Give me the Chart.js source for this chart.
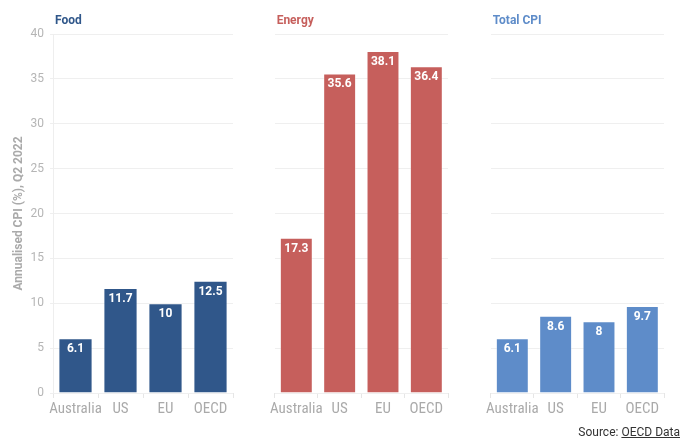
<!DOCTYPE html>
<html>
<head>
<meta charset="utf-8">
<script src="https://cdn.jsdelivr.net/npm/chart.js@4"></script>
<style>
  body { margin: 0; background: #fff; }
  #wrap { position: relative; width: 690px; height: 439px; overflow: hidden; }
  canvas { position: absolute; top: 0; }
  #source { position: absolute; right: 10px; top: 425px; font: 12px Roboto, sans-serif; color: #333; }
  #source u { text-decoration: underline; }
</style>
</head>
<body>
<div id="wrap">
  <canvas id="c1" style="left:0px" width="240" height="439"></canvas>
  <canvas id="c2" style="left:268px" width="181" height="439"></canvas>
  <canvas id="c3" style="left:484px" width="181" height="439"></canvas>
  <div id="source">Source: <u>OECD Data</u></div>
</div>
<script>
// data
const countries = ['Australia', 'US', 'EU', 'OECD'];
const food = [6.1, 11.7, 10, 12.5];
const energy = [17.3, 35.6, 38.1, 36.4];
const totalCpi = [6.1, 8.6, 8, 9.7];
const panelTitles = ['Food', 'Energy', 'Total CPI'];
const yMax = 40;
const yStep = 5;

const colors = ['#30578a', '#c65f5c', '#5e8cc9'];
const labelFont = "'Roboto Condensed', 'Liberation Sans Narrow', 'DejaVu Sans Condensed', Roboto, sans-serif";

// white value labels inside bar tops + panel title
const panelPlugin = {
    id: 'panelPlugin',
    afterDatasetsDraw(chart, args, opts) {
        const ctx = chart.ctx;
        ctx.save();
        ctx.font = 'bold 12px Roboto, sans-serif';
        ctx.fillStyle = '#fff';
        ctx.textAlign = 'center';
        ctx.textBaseline = 'middle';
        chart.getDatasetMeta(0).data.forEach((bar, i) => {
            const v = chart.data.datasets[0].data[i];
            ctx.fillText(String(v), bar.x, bar.y + 11);
        });
        ctx.font = 'bold 12px Roboto, sans-serif';
        ctx.fillStyle = opts.color;
        ctx.textAlign = 'left';
        ctx.textBaseline = 'alphabetic';
        ctx.fillText(opts.title, chart.chartArea.left + 2, 24);
        ctx.restore();
    }
};

function makeChart(id, values, idx, first) {
    return new Chart(document.getElementById(id), {
        type: 'bar',
        data: {
            labels: countries,
            datasets: [{
                data: values,
                backgroundColor: colors[idx],
                borderColor: 'rgba(255,255,255,0.35)',
                borderWidth: 1,
                barPercentage: 0.76,
                categoryPercentage: 1
            }]
        },
        options: {
            responsive: false,
            animation: false,
            layout: { padding: { top: 34, left: 0, right: first ? 7 : 1, bottom: 0 } },
            scales: {
                x: {
                    grid: { drawOnChartArea: false, tickLength: 5, color: '#e6e6e6' },
                    border: { display: false },
                    ticks: {
                        color: '#aaaaaa',
                        font: { family: labelFont, size: 15 },
                        padding: 2,
                        maxRotation: 0,
                        autoSkip: false
                    },
                    afterFit: s => { s.height = 46; }
                },
                y: {
                    min: 0,
                    max: yMax,
                    ticks: {
                        display: first,
                        stepSize: yStep,
                        color: '#b5b5b5',
                        font: { family: 'Roboto, sans-serif', size: 12 },
                        padding: 6
                    },
                    grid: { color: '#efefef', drawTicks: first, tickLength: 3 },
                    border: { display: first, color: '#eeeeee' },
                    title: {
                        display: first,
                        text: 'Annualised CPI (%), Q2 2022',
                        color: '#aaaaaa',
                        font: { family: 'Roboto, sans-serif', size: 12, weight: 'bold' },
                        padding: { top: 12, bottom: 0 }
                    },
                    afterFit: s => { s.width = first ? 53 : 0; }
                }
            },
            plugins: {
                legend: { display: false },
                tooltip: { enabled: false },
                panelPlugin: { title: panelTitles[idx], color: colors[idx] }
            }
        },
        plugins: [panelPlugin]
    });
}

makeChart('c1', food, 0, true);
makeChart('c2', energy, 1, false);
makeChart('c3', totalCpi, 2, false);
</script>
</body>
</html>
